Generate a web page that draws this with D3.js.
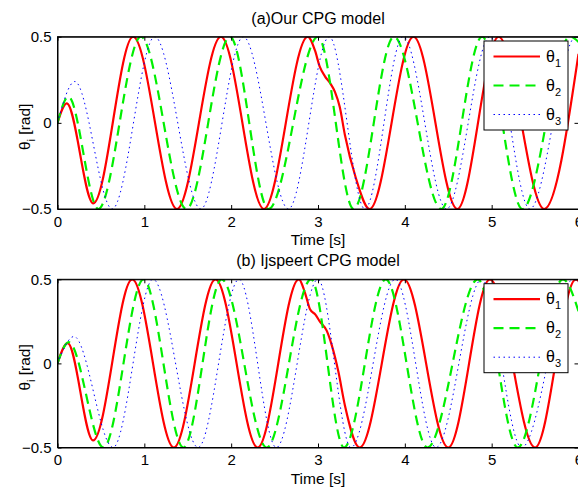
<!DOCTYPE html>
<html>
<head>
<meta charset="utf-8">
<script src="https://cdn.jsdelivr.net/npm/d3@7/dist/d3.min.js"></script>
<style>
  body { margin: 0; background: #fff; }
  svg { display: block; }
  text { font-family: "Liberation Sans", Arial, Helvetica, sans-serif; }
</style>
</head>
<body>
<svg id="chart" width="578" height="489"></svg>
<script>
// joint angles [t (s), theta (rad)]
const ourTheta1 = [[0,0],[0.106,0.113],[0.412,-0.467],[0.871,0.5],[1.376,-0.5],[1.882,0.5],[2.377,-0.5],[2.882,0.5],
  [2.965,0.42],[3.02,0.326],[3.08,0.27],[3.14,0.23],[3.195,0.18],[3.25,0.093],[3.31,-0.07],[3.43,-0.31],
  [3.595,-0.5],[4.10,0.5],[4.605,-0.5],[5.08,0.5],[5.605,-0.5],[6.0,0.40]];
const ourTheta2 = [[0,0],[0.125,0.152],[0.47,-0.5],[0.96,0.5],[1.485,-0.5],[1.986,0.5],[2.43,-0.5],[3.0,0.5],
  [3.41,-0.5],[3.875,0.5],[4.42,-0.5],[4.89,0.5],[5.355,-0.5],[5.90,0.5],[6.0,0.47]];
const ourTheta3 = [[0,0],[0.20,0.24],[0.63,-0.5],[1.12,0.5],[1.65,-0.5],[2.14,0.5],[2.66,-0.5],[3.13,0.5],
  [3.54,-0.5],[3.98,0.5],[4.48,-0.5],[4.98,0.5],[5.44,-0.5],[5.97,0.5],[6.0,0.49]];

const ijsTheta1 = [[0,0],[0.117,0.12],[0.41,-0.458],[0.86,0.5],[1.34,-0.5],[1.82,0.5],[2.305,-0.5],[2.78,0.5],
  [2.85,0.42],[2.91,0.32],[2.97,0.29],[3.02,0.25],[3.10,0.195],[3.16,0.106],[3.235,-0.05],[3.31,-0.25],
  [3.48,-0.5],[3.99,0.5],[4.50,-0.5],[4.98,0.5],[5.50,-0.5],[5.97,0.5],[6.0,0.49]];
const ijsTheta2 = [[0,0],[0.13,0.126],[0.53,-0.5],[0.99,0.5],[1.45,-0.5],[1.89,0.5],[2.41,-0.5],[2.92,0.5],
  [3.30,-0.5],[3.78,0.5],[4.26,-0.5],[4.84,0.5],[5.30,-0.5],[5.82,0.5],[6.0,0.31]];
const ijsTheta3 = [[0,0],[0.19,0.16],[0.64,-0.5],[1.10,0.5],[1.62,-0.5],[2.09,0.5],[2.52,-0.5],[3.00,0.5],
  [3.38,-0.5],[3.89,0.5],[4.36,-0.5],[4.885,0.5],[5.345,-0.5],[5.94,0.5],[6.0,0.48]];

const xTicks = [0, 1, 2, 3, 4, 5, 6];
const yTicks = [-0.5, 0, 0.5];
const legendNames = ["1", "2", "3"]; // subscripts of theta

const svg = d3.select("#chart");

const styles = [
  { color: "#ff0000", width: 2.2, dash: null },
  { color: "#00f000", width: 2.2, dash: "10,6" },
  { color: "#0000ff", width: 1, dash: "1.5,3.5" }
];

const x = d3.scaleLinear().domain([0, 6]).range([57.5, 578.5]);

function panel(id, top, bottom, title, titleY, series, legendTop) {
  const y = d3.scaleLinear().domain([-0.5, 0.5]).range([bottom, top]);
  const g = svg.append("g");

  g.append("clipPath").attr("id", "clip" + id)
    .append("rect")
    .attr("x", x(0)).attr("y", top)
    .attr("width", x(6) - x(0)).attr("height", bottom - top);

  const line = d3.line()
    .x(d => x(d[0]))
    .y(d => y(d[1]))
    .curve(d3.curveMonotoneX);

  const lines = g.append("g").attr("clip-path", "url(#clip" + id + ")");
  series.forEach((s, i) => {
    lines.append("path")
      .datum(s)
      .attr("d", line)
      .attr("fill", "none")
      .attr("stroke", styles[i].color)
      .attr("stroke-width", styles[i].width)
      .attr("stroke-dasharray", styles[i].dash);
  });

  // axes, ticks pointing inward
  g.append("g").attr("transform", `translate(0,${bottom})`)
    .call(d3.axisBottom(x).tickValues(xTicks).tickSizeInner(-4).tickSizeOuter(0).tickPadding(7).tickFormat(d3.format("d")));
  g.append("g").attr("transform", `translate(0,${top})`)
    .call(d3.axisTop(x).tickValues(xTicks).tickSizeInner(-4).tickSizeOuter(0).tickFormat(""));
  g.append("g").attr("transform", `translate(${x(0)},0)`)
    .call(d3.axisLeft(y).tickValues(yTicks).tickSizeInner(-4).tickSizeOuter(0).tickPadding(6)
      .tickFormat(d => d === 0 ? "0" : d3.format(".1f")(d)));
  g.append("g").attr("transform", `translate(${x(6)},0)`)
    .call(d3.axisRight(y).tickValues(yTicks).tickSizeInner(-4).tickSizeOuter(0).tickFormat(""));

  g.selectAll(".tick text").attr("font-size", 15).attr("fill", "#000")
    .attr("font-family", '"Liberation Sans", Arial, sans-serif');
  g.selectAll(".tick line, .domain").attr("stroke", "#000");

  g.append("rect")
    .attr("x", x(0)).attr("y", top)
    .attr("width", x(6) - x(0)).attr("height", bottom - top)
    .attr("fill", "none").attr("stroke", "#000").attr("stroke-width", 1);

  // title and axis labels
  g.append("text").attr("x", 318).attr("y", titleY)
    .attr("text-anchor", "middle").attr("font-size", 16).text(title);

  g.append("text").attr("x", 318).attr("y", bottom + 36)
    .attr("text-anchor", "middle").attr("font-size", 15.5).text("Time [s]");

  const yl = g.append("text")
    .attr("transform", `translate(29.5,${(top + bottom) / 2 + 4}) rotate(-90)`)
    .attr("text-anchor", "middle").attr("font-size", 15.5);
  yl.append("tspan").text("θ");
  yl.append("tspan").attr("font-size", 11).attr("dy", 5).text("i");
  yl.append("tspan").attr("dy", -5).text(" [rad]");

  // legend
  const lg = g.append("g").attr("transform", `translate(484,${legendTop})`);
  lg.append("rect").attr("width", 84).attr("height", 89)
    .attr("fill", "#fff").attr("stroke", "#000").attr("stroke-width", 1);
  legendNames.forEach((n, i) => {
    const ry = 15.5 + i * 29;
    lg.append("line").attr("x1", 9.5).attr("x2", 56).attr("y1", ry).attr("y2", ry)
      .attr("stroke", styles[i].color).attr("stroke-width", styles[i].width)
      .attr("stroke-dasharray", styles[i].dash);
    const t = lg.append("text").attr("x", 62).attr("y", ry + 5).attr("font-size", 16);
    t.append("tspan").text("θ");
    t.append("tspan").attr("font-size", 11).attr("dy", 5).text(n);
  });
}

panel("a", 36.7, 209, "(a)Our CPG model", 23.5, [ourTheta1, ourTheta2, ourTheta3], 41);
panel("b", 279.3, 447.5, "(b) Ijspeert CPG model", 266, [ijsTheta1, ijsTheta2, ijsTheta3], 283.7);
</script>
</body>
</html>
